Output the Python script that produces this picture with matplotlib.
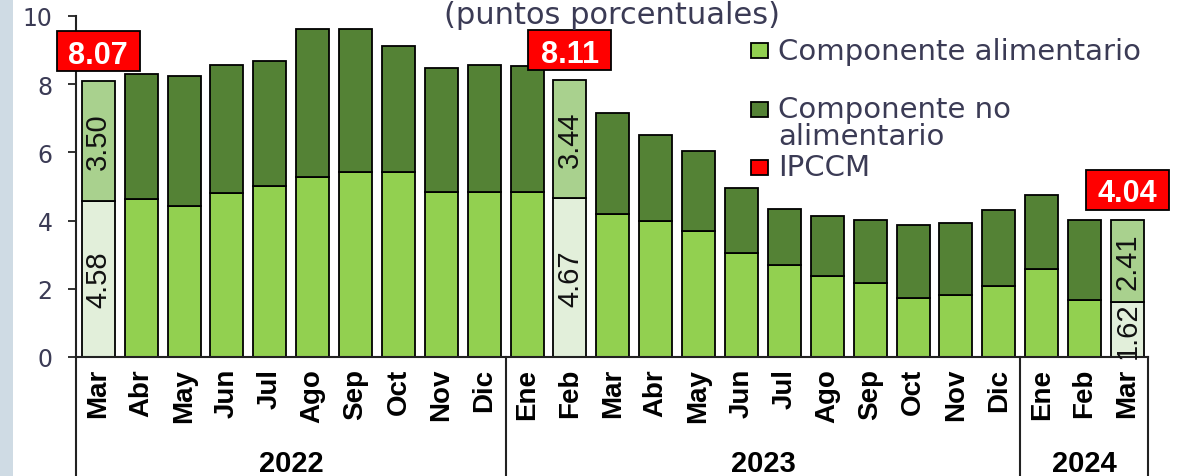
import matplotlib
matplotlib.use('Agg')
import matplotlib.pyplot as plt
from matplotlib.patches import Rectangle
import matplotlib.transforms as mtransforms

# ---------------- data ----------------
months = ['Mar', 'Abr', 'May', 'Jun', 'Jul', 'Ago', 'Sep', 'Oct', 'Nov', 'Dic',
          'Ene', 'Feb', 'Mar', 'Abr', 'May', 'Jun', 'Jul', 'Ago', 'Sep', 'Oct', 'Nov', 'Dic',
          'Ene', 'Feb', 'Mar']
years = ['2022', '2023', '2024']
year_counts = [10, 12, 3]

food = [4.58, 4.63, 4.43, 4.81, 5.01, 5.28, 5.43, 5.43, 4.84, 4.84,
        4.84, 4.67, 4.19, 3.98, 3.70, 3.05, 2.70, 2.38, 2.17, 1.73, 1.82, 2.09,
        2.59, 1.67, 1.62]
nonfood = [3.50, 3.67, 3.81, 3.75, 3.67, 4.34, 4.19, 3.69, 3.63, 3.72,
           3.69, 3.44, 2.96, 2.52, 2.35, 1.91, 1.65, 1.76, 1.86, 2.14, 2.11, 2.21,
           2.16, 2.36, 2.41]
highlight_idx = [0, 11, 24]
ipccm_labels = ['8.07', '8.11', '4.04']

legend_labels = ['Componente alimentario', 'Componente no\nalimentario', 'IPCCM']

# ---------------- style ----------------
C_FOOD = '#92d050'
C_NONFOOD = '#548235'
C_FOOD_HL = '#e2efda'
C_NONFOOD_HL = '#a9d18e'
C_RED = '#ff0000'
TXT = '#3b3b55'

W, H = 1178, 477
fig = plt.figure(figsize=(W / 100, H / 100), dpi=100)
fig.patch.set_facecolor('white')

# left decorative strip (slide background)
fig.add_artist(Rectangle((0, 0), 13 / W, 1, transform=fig.transFigure,
                         facecolor='#cfdbe4', edgecolor='none', zorder=0))

ax_left, ax_right, ax_top, ax_bot = 76, 1148, 17, 358
ax = fig.add_axes([ax_left / W, 1 - ax_bot / H, (ax_right - ax_left) / W, (ax_bot - ax_top) / H])

n = len(months)
x = list(range(n))
fcols = [C_FOOD_HL if i in highlight_idx else C_FOOD for i in x]
ncols = [C_NONFOOD_HL if i in highlight_idx else C_NONFOOD for i in x]

ax.bar(x, food, width=0.77, color=fcols, edgecolor='black', linewidth=1.3, zorder=2)
ax.bar(x, nonfood, bottom=food, width=0.77, color=ncols, edgecolor='black', linewidth=1.3, zorder=2)

xmin, xmax = -0.52, n - 0.52
ax.set_xlim(xmin, xmax)
ax.set_ylim(0, 10)

# pixel -> data scale (fixed layout)
px_x = (xmax - xmin) / (ax_right - ax_left)
px_y = 10.0 / (ax_bot - ax_top)

# spines
for s in ['top', 'right']:
    ax.spines[s].set_visible(False)
for s in ['left', 'bottom']:
    ax.spines[s].set_linewidth(1.5)
    ax.spines[s].set_color('#222222')

# y ticks
ax.set_yticks([0, 2, 4, 6, 8, 10])
ax.tick_params(axis='y', length=6, width=1.3, direction='out', pad=11,
               labelsize=17, labelcolor=TXT, color='#222222')
for lab in ax.get_yticklabels():
    lab.set_family('DejaVu Sans')

# x ticks (months)
ax.set_xticks(x)
ax.set_xticklabels(months, rotation=90, fontweight='bold', fontsize=20,
                   family='Liberation Sans', va='top', ha='center')
ax.tick_params(axis='x', length=0, pad=8, labelcolor='black')

# separators below the axis and year labels
trans = mtransforms.blended_transform_factory(ax.transData, ax.transAxes)
bounds = [xmin]
acc = 0
for c in year_counts:
    acc += c
    bounds.append(acc - 0.5 if acc < n else xmax)
for b in bounds:
    ax.plot([b, b], [0, -0.40], transform=trans, color='#222222', lw=1.5,
            clip_on=False, zorder=3)
start = 0
for yr, c in zip(years, year_counts):
    center = start + (c - 1) / 2
    ax.text(center, -(464 - ax_bot) / (ax_bot - ax_top), yr, transform=trans,
            ha='center', va='center', fontsize=21, fontweight='bold',
            family='Liberation Sans', color='black')
    start += c

# labels inside highlighted bars and IPCCM boxes
box_w, box_h, box_off = 83 * px_x, 40 * px_y, 30 * px_y
for i, lab in zip(highlight_idx, ipccm_labels):
    ax.text(i, food[i] / 2, f'{food[i]:.2f}', rotation=90, ha='center', va='center',
            fontsize=21, family='Liberation Sans', color='#111111', zorder=4)
    ax.text(i, food[i] + nonfood[i] / 2, f'{nonfood[i]:.2f}', rotation=90, ha='center',
            va='center', fontsize=21, family='Liberation Sans', color='#111111', zorder=4)
    top = food[i] + nonfood[i]
    cy = top + box_off
    ax.add_patch(Rectangle((i - box_w / 2, cy - box_h / 2), box_w, box_h,
                           facecolor=C_RED, edgecolor='black', linewidth=1.3,
                           zorder=5, clip_on=False))
    ax.text(i, cy, lab, ha='center', va='center_baseline', fontsize=22,
            fontweight='bold', family='Liberation Sans', color='white', zorder=6,
            clip_on=False)

# title (kept fully visible at the top)
fig.text(612 / W, 1 - 24 / H, '(puntos porcentuales)', ha='center', va='baseline',
         fontsize=22, color=TXT, family='DejaVu Sans')

# legend (manual)
leg_cols = [C_FOOD, C_NONFOOD, C_RED]
leg_sq_y = [51, 110, 168]
for col, yy in zip(leg_cols, leg_sq_y):
    fig.add_artist(Rectangle((751 / W, 1 - (yy + 7.5) / H), 17 / W, 15 / H,
                             transform=fig.transFigure, facecolor=col,
                             edgecolor='black', linewidth=1.3))
leg_lines = [(legend_labels[0], 52),
             (legend_labels[1].split('\n')[0], 110),
             (legend_labels[1].split('\n')[1], 137),
             (legend_labels[2], 168)]
for txt, yy in leg_lines:
    fig.text(778 / W, 1 - yy / H, txt, ha='left', va='center', fontsize=21,
             color=TXT, family='DejaVu Sans')

fig.savefig('out.png', dpi=100, facecolor='white')
